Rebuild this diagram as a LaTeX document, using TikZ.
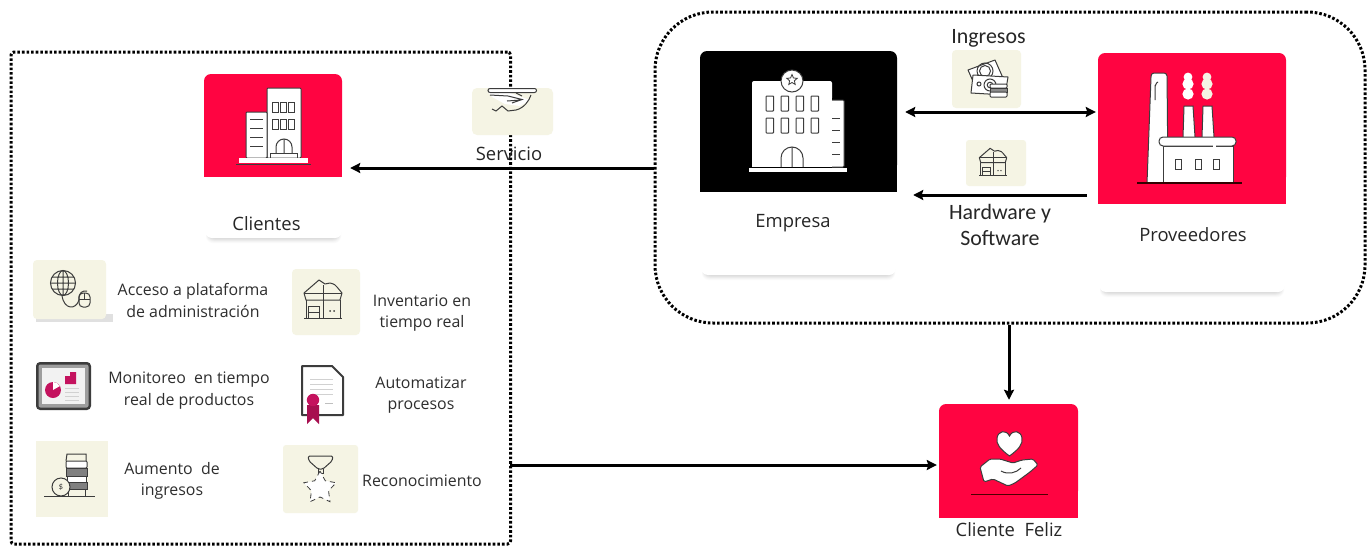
\documentclass[tikz,border=0pt]{standalone}
\usepackage{fontspec}
\setmainfont{Carlito}
\newfontfamily\abierta{Open Sans}
\usetikzlibrary{arrows.meta,fit,calc,shapes.geometric}
\definecolor{rojo}{HTML}{FF0441}
\definecolor{crema}{HTML}{F5F4E4}
\definecolor{tinta}{HTML}{3C3C3C}
\definecolor{carmin}{HTML}{C4125E}
\tikzset{
  punta/.tip={Stealth[length=10pt,width=10pt,inset=1.5pt]},
  marco/.style={draw=black,line width=3pt,dash pattern=on 2.6pt off 2pt},
  flecha/.style={draw=black,line width=3pt,-punta},
  flechados/.style={draw=black,line width=3pt,punta-punta},
  etiqueta/.style={font=\abierta\fontsize{15.9}{21.5}\selectfont,text=black!82,align=center,inner sep=0pt},
  titulo/.style={font=\abierta\fontsize{18.4}{26}\selectfont,text=black!85,align=center,inner sep=0pt},
  tituloc/.style={font=\fontsize{21.9}{26}\selectfont,text=black!85,align=center,inner sep=0pt},
  linea/.style={draw=tinta,line width=1pt},
  blanca/.style={fill=white,draw=tinta,line width=1pt},
  hueco/.style={inner sep=0pt,draw=none},
  pics/cajaabierta/.style={code={
    \draw[linea] (-17,1) -- (-17,19) (17,1) -- (17,19);
    \draw[linea,line join=round] (-19,-6) -- (-4,-19) -- (2,-15) -- (7,-16) .. controls (11,-15) and (13,-14) .. (14,-12) -- (19,-6) -- (17,1) -- (-17,1) -- cycle;
    \draw[linea] (-19,-6) -- (19,-6) (0,-14) -- (0,19) (-19,19) -- (19,19);
    \draw[linea] (-3,7) -- (-15,7) (-15,7) -- (-15,19) (-15,13) -- (-4,13) (-4,7) -- (-4,19);
    \fill[tinta] (7,12) circle (1) (11,12) circle (1);
  }},
}
\newcommand{\panelrojo}[6]{% name x1 y1 x2 y2 color
  \fill[#6,rounded corners=7pt] (#2,#3) rectangle (#4,#5-20);
  \fill[#6] (#2,#3+12) rectangle (#4,#5);
  \node[hueco,fit={(#2,#3)(#4,#5)}] (#1) {};
}
\newcommand{\sombra}[4]{% x1 x2 ybottom ytop
  \foreach \d/\c in {5/2,4/4,3/7,2/10,1/14,0/19}{
    \fill[black!\c,rounded corners=7pt] (#1+3-\d*.4,#3-12) rectangle (#2-3+\d*.4,#3+\d);}
  \fill[white,rounded corners=7pt] (#1,#4) rectangle (#2,#3);
}
\begin{document}
\begin{tikzpicture}[x=1pt,y=-1pt]
\useasboundingbox (0,0) rectangle (1372,546);
\fill[white] (0,0) rectangle (1372,546);

% dotted frames
\node[hueco,fit={(11,52)(510.5,544)},marco,rounded corners=3pt] (izq) {};
\node[hueco,fit={(655,12)(1365,323)},marco,rounded corners=58pt] (der) {};

% Cards and red panels
\sombra{205}{342}{238}{170}
\panelrojo{pClientes}{204}{74}{342}{177}{rojo}
\sombra{701}{896}{275}{185}
\panelrojo{pEmpresa}{700}{51}{897}{192}{black}
\sombra{1099}{1285}{292}{195}
\panelrojo{pProv}{1098}{53}{1286}{204}{rojo}
\panelrojo{pFeliz}{939}{404}{1078}{518}{rojo}

% Clientes building
\draw[blanca,rounded corners=1pt] (267,88) rectangle (301,158);
\draw[blanca,rounded corners=1pt] (246,112) rectangle (267,158);
\foreach \x in {272,280,288}{\foreach \y in {102,119}{\draw[linea,fill=white] (\x,\y) rectangle ++(6,10);}}
\foreach \y in {119,128,137,146}{\draw[linea] (250,\y) -- (263,\y);}
\draw[linea] (270,158) -- (270,153) -- (297,153) -- (297,158);
\draw[linea] (276,153) -- (276,147) arc[start angle=180,end angle=360,radius=8] -- (292,153) (284,139) -- (284,153);
\fill[white] (239,158) rectangle (308,163);
\draw[linea] (236,164) -- (311,164);

% Empresa building
\fill[white] (752,84) rectangle (832,167);
\fill[white,rounded corners=2pt] (752,81) rectangle (832,100);
\draw[blanca,rounded corners=1pt] (832,100) -- (844,100) -- (844,167) -- (832,167);
\foreach \y in {118,130,142,154}{\draw[linea] (832,\y) -- (840,\y);}
\draw[blanca,line width=1pt] (792,81) circle (11);
\node[star,star points=5,star point ratio=2.2,minimum size=11pt,inner sep=0pt,draw=tinta,fill=white,line width=.8pt] (estrella) at (792,80) {};
\foreach \x in {766,781,796,811}{\foreach \y in {96,118}{\draw[linea,rounded corners=.7pt] (\x,\y) rectangle ++(7.5,15);}}
\draw[linea] (781,167) -- (781,158) arc[start angle=180,end angle=360,radius=11] -- (803,167) (792,147) -- (792,167);
\fill[white] (749,168) rectangle (847,172);

% Factory
\draw[blanca,fill=white] (1147,183) -- (1151,77) [rounded corners=3pt] -- (1151,73) -- (1167,73) [sharp corners] -- (1168,183);
\draw[linea] (1155,100) -- (1155,86) to[out=-90,in=180] (1158,82);
\draw[blanca] (1183,137) -- (1184,106) -- (1193,106) -- (1195,137);
\draw[blanca] (1202,137) -- (1203,106) -- (1212,106) -- (1214,137);
\draw[blanca] (1163,146) rectangle (1233,183);
\draw[blanca,rounded corners=4pt] (1159,137) rectangle (1236,146);
\draw[draw=white,line width=1.4pt] (1213,146) -- (1216,146);
\foreach \x in {1175,1195,1213}{\draw[linea] (\x,159) rectangle ++(6,10);}
\foreach \x/\c in {1188/white,1207/crema}{
  \fill[\c] (\x,77) circle (4.4) (\x,84) circle (5.6) (\x,94) circle (5.6);
}
\draw[draw=black!80!red,line width=1.2pt] (1137,183) -- (1242,183);

% Happy client
\draw[blanca] (1009.5,456) .. controls (1000,449) and (996,444) .. (997,438) .. controls (998,431) and (1006,429) .. (1009.5,436) .. controls (1013,429) and (1021,431) .. (1022,438) .. controls (1023,444) and (1019,449) .. (1009.5,456) -- cycle;
\draw[blanca,line join=round,rounded corners=1.5pt] (980,467) -- (990,459) -- (1000,459) -- (1013,463) -- (1022,460) -- (1033,459) -- (1038,465) -- (1030,472) -- (1015,483) -- (1008,486) -- (993,479) -- (984,482) -- cycle;
\draw[linea] (1001,471) .. controls (1008,475) and (1016,473) .. (1021,468);
\draw[draw=black!70!red,line width=1pt] (971,494) -- (1048,494);

% Service tile
\fill[crema,rounded corners=5pt] (472,88) rectangle (553,135);
\fill[white] (488,92) -- (510,93) -- (530,100) -- (520,106) -- (505,104) -- (492,97) -- cycle;
\draw[linea,fill=white,rounded corners=2pt] (488,88.5) rectangle (536.5,92.5);
\draw[linea] (490,95) -- (508,96) -- (522,99.5) -- (512,103) (507,101) -- (521,100) (531,95) .. controls (529,101) and (524,108) .. (516,110) -- (508,111) -- (502,106) -- (496,111) -- (492,109);
\draw[linea] (516,93) -- (522,96);

% Money tile
\fill[crema,rounded corners=4pt] (952,50) rectangle (1021,108);
\draw[linea,fill=white,line join=round] (968,70) -- (995,60) -- (1003,78) -- (976,88) -- cycle;
\draw[linea] (985,71) circle (5.5) (985,71) circle (8);
\draw[linea,fill=white,line join=round] (973,75) -- (1008,77) -- (1005,95) -- (971,93) -- cycle;
\draw[linea] (990,85) circle (6) (990,85) circle (2.8) (979,84) circle (2);
\draw[linea,fill=white,rounded corners=1pt] (990,84) rectangle (1007,88);
\draw[linea,fill=black!45] (990,88) rectangle (1007,92);
\draw[linea,fill=white,rounded corners=1pt] (990,92) rectangle (1007,97);

% Box tile (small)
\fill[crema,rounded corners=3pt] (966,140) rectangle (1026,186);
\pic[scale=.72] at (993,162) {cajaabierta};

% Left column tiles
\fill[black!12] (36,314) rectangle (113,322);
\fill[crema,rounded corners=4pt] (33,260) rectangle (106,319);
\draw[linea,fill=crema] (63,283) circle (12.5);
\draw[linea] (63,283) ellipse (5.5 and 12.5) (50.5,283) -- (75.5,283) (63,270.5) -- (63,295.5) (52,277) -- (74,277) (52,289) -- (74,289);
\draw[linea] (62,295.5) .. controls (64,310) and (76,310) .. (79,300) (79,300) .. controls (78,293) and (83,290) .. (87,291);
\draw[linea,rounded corners=4pt] (79,293) rectangle (90,307);
\draw[linea] (84.5,293) -- (84.5,299) (79,299) -- (90,299);
\node[etiqueta] (tAcceso) at (193,300.5) {Acceso a plataforma\\de administración};

\fill[crema,rounded corners=4pt] (292,269) rectangle (360,335);
\pic at (323,299) {cajaabierta};
\node[etiqueta] (tInventario) at (422,313) {Inventario en\\tiempo real};

\fill[tinta,rounded corners=4pt] (36,362) rectangle (91,410);
\fill[black!38,rounded corners=2pt] (38.5,364.5) rectangle (88.5,407.5);
\fill[black!5] (42,368) rectangle (85,404);
\fill[carmin] (53,390) circle (8);
\fill[white] (53,390) -- (53,382) arc[start angle=-90,end angle=-30,radius=8] -- cycle;
\fill[carmin] (65,384) -- (65,376) -- (70,376) -- (70,372) -- (76,372) -- (76,384) -- cycle;
\foreach \y in {388,392,396,400}{\draw[black!18,line width=1pt] (65,\y) -- (79,\y);}
\node[etiqueta] (tMonitoreo) at (189,390.5) {Monitoreo\ \ en tiempo\\real de productos};

\draw[fill=white,draw=tinta,line width=2pt,line join=round] (302,366) -- (332,366) -- (343,377) -- (343,415) -- (302,415) -- cycle;
\foreach \y in {379,384,389,394}{\draw[black!18,line width=1pt] (310,\y) -- (333,\y);}
\draw[black!25,line width=1pt] (325,403) -- (333,403);
\fill[carmin!85!black] (307,405) -- (307,424) -- (313,418) -- (319,424) -- (319,405) -- cycle;
\fill[carmin] (313,400) circle (6.2);
\node[etiqueta] (tAuto) at (421,395) {Automatizar\\procesos};

\fill[crema] (36,441) rectangle (108,517);
\draw[linea] (66,461) -- (67,454) -- (86,454) -- (86,461);
\draw[linea,fill=white,rounded corners=1pt] (66,461) rectangle (87,468);
\draw[linea,fill=black!50] (66,468) rectangle (87,476);
\draw[linea,fill=white] (67,476) rectangle (86,482);
\draw[linea,fill=black!50] (66,482) rectangle (87,489);
\draw[linea] (68,489) -- (68,496) (85,489) -- (85,496);
\draw[linea] (44,496) -- (95,496);
\node[circle,draw=tinta,line width=1pt,fill=crema,minimum size=18pt,inner sep=0pt,font=\fontsize{9}{9}\selectfont,text=tinta] (moneda) at (61,487) {\$};
\node[etiqueta] (tAumento) at (172,481) {Aumento\ \ de\\ingresos};

\fill[crema,rounded corners=3pt] (283,445) rectangle (358,513);
\draw[linea,rounded corners=1.5pt] (308,456) -- (333,456) -- (332,461) -- (323,469) -- (318,469) -- (309,461) -- cycle;
\draw[linea] (318,469) -- (318,473) -- (323,473) -- (323,469);
\node[star,star points=5,star point ratio=1.9,minimum size=34pt,inner sep=0pt,fill=white,draw=tinta,line width=.8pt,dash pattern=on 5pt off 4pt] (estrella2) at (320,488) {};
\node[etiqueta] (tRec) at (422,481) {Reconocimiento};

% Titles
\node[titulo] (tClientes) at (266.5,224) {Clientes};
\node[titulo] (tEmpresa) at (793,223.5) {Empresa};
\node[titulo] (tProv) at (1193,234.5) {Proveedores};
\node[titulo] (tFeliz) at (1009,530) {Cliente\ \ Feliz};
\node[titulo] (tServicio) at (509,154) {Servicio};
\node[tituloc] (tIngresos) at (988.5,38) {Ingresos};
\node[tituloc] (tHard) at (1000,225) {Hardware y\\Software};

% Connectors
\coordinate (n168) at (500,168);
\coordinate (n112) at (1000,112);
\coordinate (n195) at (1000,195);
\coordinate (n465) at (700,465);
\coordinate (c1009) at (1009,360);
\draw[flecha] (der.west |- n168) -- ($(pClientes.east |- n168)+(8,0)$);
\draw[flechados] ($(pEmpresa.east |- n112)+(8,0)$) -- ($(pProv.west |- n112)+(-2,0)$);
\draw[flecha] ($(pProv.west |- n195)+(-11,0)$) -- ($(pEmpresa.east |- n195)+(16,0)$);
\draw[flecha] ($(izq.east |- n465)+(-2,0)$) -- ($(pFeliz.west |- n465)+(-2,0)$);
\draw[flecha] (der.south -| c1009) -- ($(pFeliz.north -| c1009)+(0,-4)$);
\end{tikzpicture}
\end{document}
